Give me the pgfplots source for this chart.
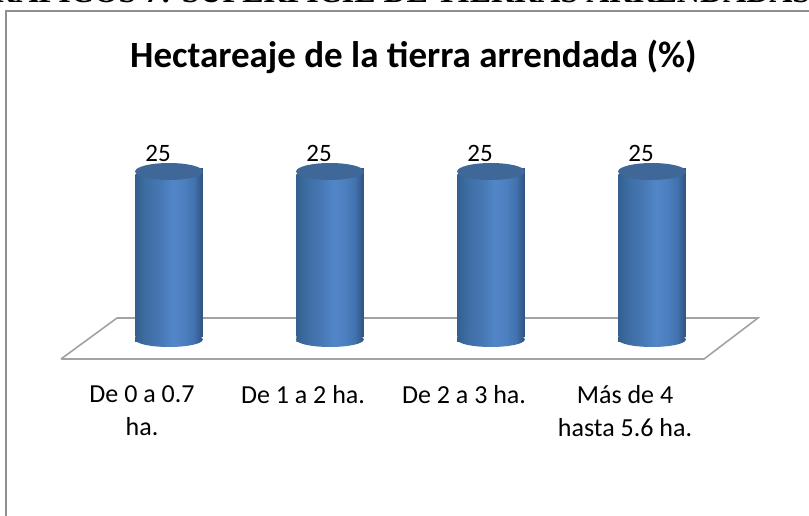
\documentclass[border=0pt]{standalone}
\usepackage{pgfplots}
\pgfplotsset{compat=1.18}
\usepackage{fontspec}
\setmainfont{Carlito}
\newfontfamily\headfont{Liberation Serif}
\definecolor{capblue}{HTML}{3F6797}
\definecolor{floorgray}{HTML}{A3A3A3}
\definecolor{framegray}{HTML}{8F8F8F}
\definecolor{cylA}{HTML}{33608F}
\definecolor{cylB}{HTML}{3D6DA3}
\definecolor{cylC}{HTML}{4677B3}
\definecolor{cylD}{HTML}{5286C8}
\definecolor{cylF}{HTML}{4C80C0}
\definecolor{cylG}{HTML}{4272AE}
\definecolor{cylE}{HTML}{2F5280}
\pgfdeclarehorizontalshading{cyl}{100bp}{
  color(0bp)=(cylA);
  color(25bp)=(cylA);
  color(32.5bp)=(cylB);
  color(42.5bp)=(cylC);
  color(53bp)=(cylD);
  color(61bp)=(cylF);
  color(68.5bp)=(cylG);
  color(75bp)=(cylE);
  color(100bp)=(cylE)}
\pgfdeclareplotmark{captop}{%
  \path[draw=none,shading=cyl] (-33.75pt,0pt) -- (33.75pt,7pt) -- (33.75pt,0pt) -- cycle;
  \path[draw=none,fill=capblue] (0pt,3.5pt) [rotate around={5.9:(0pt,3.5pt)}] ellipse [x radius=33.9pt,y radius=8.5pt];
}
\pgfdeclareplotmark{capbottom}{%
  \path[draw=none,shading=cyl] (-33.75pt,0pt) -- (33.75pt,0pt) -- (-33.75pt,-5pt) -- cycle;
  \path[draw=none,shading=cyl] (0pt,-2.5pt) [rotate around={4.2:(0pt,-2.5pt)}] ellipse [x radius=33.8pt,y radius=7.5pt];
}
\pgfplotsset{cylbar/.style={ybar,bar width=67.5pt,draw=none,shading=cyl,
  nodes near coords,
  /pgf/number format/assume math mode=true,
  every node near coord/.append style={font=\fontsize{25}{30}\selectfont,text=black,anchor=base,xshift=-11pt,yshift=13pt,inner sep=0pt}}}
\begin{document}
\begin{tikzpicture}
\path[use as bounding box,fill=white] (0pt,0pt) rectangle (809pt,515pt);
\node[font=\headfont\bfseries\fontsize{32}{38}\selectfont,anchor=base,inner sep=0pt] at (389pt,512.5pt)
  {GRÁFICOS 7: SUPERFICIE DE TIERRAS ARRENDADAS};
\draw[framegray,line width=2pt] (6pt,-2pt) -- (6pt,504pt) -- (811pt,504pt);
\begin{axis}[
  scale only axis,
  width=809pt,height=515pt,
  xmin=-1.0497,xmax=3.975,
  ymin=-27.469,ymax=52.006,
  clip=false,
  axis line style={draw=none},
  major tick style={draw=none},
  ytick=\empty,
  xtick={0,1,2,3},
  xticklabels={De 0 a 0.7\\ha.,De 1 a 2 ha.,De 2 a 3 ha.,Más de 4\\hasta 5.6 ha.},
  xticklabel style={font=\fontsize{26}{33}\selectfont,align=center,anchor=north,xshift=-27pt,yshift=133pt},
  title={Hectareaje de la tierra arrendada (\%)},
  title style={at={(0.511,0.868)},anchor=base,yshift=-6pt,font=\bfseries\fontsize{37}{42}\selectfont,inner sep=0pt},
]
\addplot[draw=floorgray,line width=1.6pt] coordinates {(-0.6708,-3.395) (-0.323,2.932) (3.658,2.932) (3.323,-3.395) (-0.6708,-3.395)};
\addplot[cylbar] coordinates {(0,25)};
\addplot[cylbar] coordinates {(1,25)};
\addplot[cylbar] coordinates {(2,25)};
\addplot[cylbar] coordinates {(3,25)};
\addplot[only marks,mark=captop,forget plot] coordinates {(0,25) (1,25) (2,25) (3,25)};
\addplot[only marks,mark=capbottom,forget plot] coordinates {(0,0) (1,0) (2,0) (3,0)};
\end{axis}
\end{tikzpicture}
\end{document}
